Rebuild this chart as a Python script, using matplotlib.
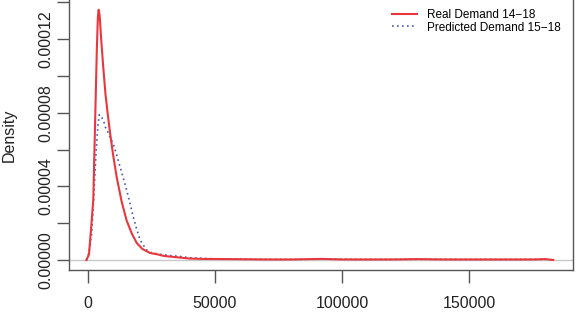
import numpy as np
import matplotlib
matplotlib.use('Agg')
import matplotlib.pyplot as plt

plt.rcParams['font.family'] = ['Liberation Sans', 'DejaVu Sans']

# density estimates (x in demand units, y in 1e-5)
real_x = [-500, 500, 1500, 2200, 3000, 3600, 4000, 4300, 4700, 5300, 6100, 7000,
          7900, 8800, 10000, 11400, 13300, 15300, 17300, 19300, 21500, 24500,
          27000, 30000, 35000, 40000, 45000, 55000, 70000, 80000, 92000, 100000,
          120000, 130000, 140000, 160000, 175000, 180000, 183000]
real_y = [0.0, 0.3, 2.0, 3.3, 8.0, 11.5, 13.2, 13.6, 13.3, 12.0, 10.5, 9.0,
          7.9, 6.9, 5.7, 4.5, 3.2, 2.15, 1.45, 0.92, 0.6, 0.38,
          0.32, 0.22, 0.15, 0.08, 0.06, 0.05, 0.03, 0.03, 0.06, 0.03,
          0.03, 0.05, 0.03, 0.03, 0.03, 0.05, 0.0]

pred_x = [-500, 500, 1570, 2400, 3270, 4000, 4570, 5300, 6130, 7000, 8100, 9000,
          10070, 11400, 12700, 14000, 15300, 16600, 17900, 19200, 20550, 21900,
          23200, 25000, 28000, 32000, 36000, 40000, 50000, 65000, 80000, 93000,
          110000, 130000, 150000, 170000, 180000, 183000]
pred_y = [0.0, 0.4, 1.45, 3.5, 5.8, 7.3, 7.9, 7.8, 7.6, 7.2, 6.9, 6.6,
          6.3, 5.7, 5.07, 4.45, 3.8, 3.1, 2.35, 1.7, 1.1, 0.8,
          0.54, 0.4, 0.32, 0.25, 0.2, 0.12, 0.06, 0.04, 0.03, 0.06,
          0.03, 0.04, 0.03, 0.03, 0.04, 0.0]

labels = ['Real Demand 14\u221218', 'Predicted Demand 15\u221218']
xticks = [0, 50000, 100000, 150000]
yticks = [0, 2e-5, 4e-5, 6e-5, 8e-5, 10e-5, 12e-5, 14e-5]
ytick_labels = ['0.00000', '', '0.00004', '', '0.00008', '', '0.00012', '']

W, H = 580, 314
fig = plt.figure(figsize=(W / 100, H / 100), dpi=100)
ax = fig.add_axes([69 / W, (H - 270) / H, (573 - 69) / W, 270 / H])

ax.axhline(0, color='#c8c8c8', lw=1, zorder=1)
ax.plot(real_x, np.array(real_y) * 1e-5, color='#e8383d', lw=1.5, label=labels[0], zorder=3)
ax.plot(pred_x, np.array(pred_y) * 1e-5, color='#4a5aa8', lw=1.2, ls=(0, (1, 2)),
        label=labels[1], zorder=2)

ax.set_xlim(-7350, 190760)
ax.set_ylim(-5.43e-6, 1.413e-4)
ax.set_xticks(xticks)
ax.set_xticklabels(['0', '50000', '100000', '150000'])
ax.set_yticks(yticks)
ax.set_yticklabels(ytick_labels, rotation=90, va='center')

for s in ['left', 'bottom', 'right']:
    ax.spines[s].set_color('#555555')
    ax.spines[s].set_linewidth(1)
ax.spines['top'].set_visible(False)
ax.tick_params(axis='both', length=9, width=1, color='#555555', labelsize=11.5,
               labelcolor='#222222')
ax.tick_params(axis='x', pad=10)
ax.tick_params(axis='y', pad=2)

ax.set_ylabel('Density', fontsize=11.5, color='#222222')
ax.yaxis.set_label_coords(-0.103, 0.5)

ax.legend(loc='upper left', bbox_to_anchor=(392 / W, 1 - 9 / H),
          bbox_transform=fig.transFigure, frameon=False, fontsize=8.5,
          handlelength=2.1, handletextpad=0.85, borderpad=0, borderaxespad=0,
          labelspacing=0.05)

fig.savefig('out.png', dpi=100)
